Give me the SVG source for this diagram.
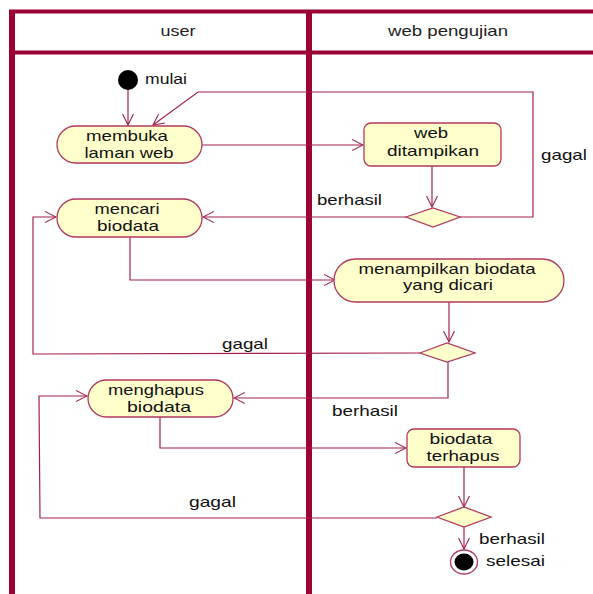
<svg xmlns="http://www.w3.org/2000/svg" width="593" height="594" viewBox="0 0 593 594">
  <defs>
    <marker id="open" viewBox="0 0 12 12" refX="11" refY="6" markerWidth="12" markerHeight="12" markerUnits="userSpaceOnUse" orient="auto">
      <path d="M0,0.5 L11,6 L0,11.5" fill="none" stroke="#a3204e" stroke-width="1.1"/>
    </marker>
  </defs>
  <style>
    .lane { fill: none; stroke: #9b0036; }
    .hdr { font-family: "Liberation Sans", Arial, sans-serif; font-size: 15px; fill: #222; text-anchor: middle; }
    .node { fill: #ffffcc; stroke: #b2385e; stroke-width: 1.3; }
    .lbl { font-family: "Liberation Sans", Arial, sans-serif; font-size: 15px; fill: #111; text-anchor: middle; }
    .note { font-family: "Liberation Sans", Arial, sans-serif; font-size: 15px; fill: #111; }
    .edge { fill: none; stroke: #a3204e; stroke-width: 1.2; }
    .arr { marker-end: url(#open); }
  </style>
  <rect width="593" height="594" fill="#ffffff"/>

  <!-- swimlanes -->
  <g id="lanes">
    <line class="lane" x1="9" y1="11.5" x2="593" y2="11.5" stroke-width="4"/>
    <line class="lane" x1="9" y1="52.5" x2="593" y2="52.5" stroke-width="4"/>
    <line class="lane" x1="12" y1="10" x2="12" y2="594" stroke-width="6"/>
    <line class="lane" x1="309" y1="10" x2="309" y2="594" stroke-width="6"/>
    <text class="hdr" x="178" y="36" textLength="35" lengthAdjust="spacingAndGlyphs">user</text>
    <text class="hdr" x="448" y="36" textLength="120" lengthAdjust="spacingAndGlyphs">web pengujian</text>
  </g>

  <!-- connectors -->
  <g id="connectors">
    <line class="edge arr" x1="128" y1="90" x2="128" y2="125"/>
    <polyline class="edge arr" points="460,217 533,217 533,92 198,92 153,125"/>
    <line class="edge arr" x1="202" y1="145" x2="363" y2="145"/>
    <line class="edge arr" x1="432" y1="166" x2="432" y2="207"/>
    <line class="edge arr" x1="406" y1="217" x2="203" y2="217"/>
    <polyline class="edge arr" points="130,237 130,280 335,280"/>
    <line class="edge arr" x1="449" y1="302" x2="449" y2="342"/>
    <polyline class="edge arr" points="420,353 33,354 33,217 56,217"/>
    <polyline class="edge arr" points="448,362 448,398 234,398"/>
    <polyline class="edge arr" points="160,417 160,448 406,448"/>
    <line class="edge arr" x1="464" y1="467" x2="464" y2="507"/>
    <polyline class="edge arr" points="437,518 40,518 39,396 87,396"/>
    <line class="edge arr" x1="464" y1="527" x2="464" y2="549"/>
    <text class="note" x="541" y="160" textLength="46" lengthAdjust="spacingAndGlyphs">gagal</text>
    <text class="note" x="317" y="205" textLength="65" lengthAdjust="spacingAndGlyphs">berhasil</text>
    <text class="note" x="222" y="349" textLength="46" lengthAdjust="spacingAndGlyphs">gagal</text>
    <text class="note" x="332" y="416" textLength="66" lengthAdjust="spacingAndGlyphs">berhasil</text>
    <text class="note" x="189" y="507" textLength="47" lengthAdjust="spacingAndGlyphs">gagal</text>
    <text class="note" x="479" y="544" textLength="66" lengthAdjust="spacingAndGlyphs">berhasil</text>
  </g>

  <g id="start">
    <ellipse cx="128" cy="80" rx="10" ry="10" fill="#000"/>
    <text class="note" x="145" y="84" textLength="42" lengthAdjust="spacingAndGlyphs">mulai</text>
  </g>

  <g id="membuka">
    <rect class="node" x="57" y="126" width="145" height="37" rx="18.5" ry="18.5"/>
    <text class="lbl" x="127" y="141" textLength="82" lengthAdjust="spacingAndGlyphs">membuka</text>
    <text class="lbl" x="129" y="158" textLength="89" lengthAdjust="spacingAndGlyphs">laman web</text>
  </g>

  <g id="ditampilkan">
    <rect class="node" x="364" y="123" width="137" height="43" rx="7" ry="7"/>
    <text class="lbl" x="431" y="138" textLength="34" lengthAdjust="spacingAndGlyphs">web</text>
    <text class="lbl" x="433" y="156" textLength="92" lengthAdjust="spacingAndGlyphs">ditampikan</text>
  </g>

  <g id="decision1">
    <polygon class="node" points="406,217 433,208 460,217 433,227"/>
  </g>

  <g id="mencari">
    <rect class="node" x="57" y="199" width="145" height="38" rx="19" ry="19"/>
    <text class="lbl" x="127" y="214" textLength="65" lengthAdjust="spacingAndGlyphs">mencari</text>
    <text class="lbl" x="128" y="231" textLength="62" lengthAdjust="spacingAndGlyphs">biodata</text>
  </g>

  <g id="menampilkan">
    <rect class="node" x="334" y="259" width="230" height="43" rx="21.5" ry="21.5"/>
    <text class="lbl" x="447" y="274" textLength="177" lengthAdjust="spacingAndGlyphs">menampilkan biodata</text>
    <text class="lbl" x="448" y="290" textLength="90" lengthAdjust="spacingAndGlyphs">yang dicari</text>
  </g>

  <g id="decision2">
    <polygon class="node" points="420,353 447,343 475,353 447,362"/>
  </g>

  <g id="menghapus">
    <rect class="node" x="88" y="380" width="145" height="37" rx="18.5" ry="18.5"/>
    <text class="lbl" x="156" y="395" textLength="96" lengthAdjust="spacingAndGlyphs">menghapus</text>
    <text class="lbl" x="159" y="412" textLength="64" lengthAdjust="spacingAndGlyphs">biodata</text>
  </g>

  <g id="terhapus">
    <rect class="node" x="407" y="429" width="113" height="38" rx="7" ry="7"/>
    <text class="lbl" x="461" y="444" textLength="63" lengthAdjust="spacingAndGlyphs">biodata</text>
    <text class="lbl" x="463" y="461" textLength="73" lengthAdjust="spacingAndGlyphs">terhapus</text>
  </g>

  <g id="decision3">
    <polygon class="node" points="437,517 464,507 491,517 464,527"/>
  </g>

  <g id="end">
    <ellipse cx="464" cy="562" rx="13.5" ry="12" fill="#fff" stroke="#b2385e" stroke-width="1.3"/>
    <ellipse cx="464" cy="562" rx="9.5" ry="8.5" fill="#000"/>
    <text class="note" x="486" y="566" textLength="59" lengthAdjust="spacingAndGlyphs">selesai</text>
  </g>
</svg>
